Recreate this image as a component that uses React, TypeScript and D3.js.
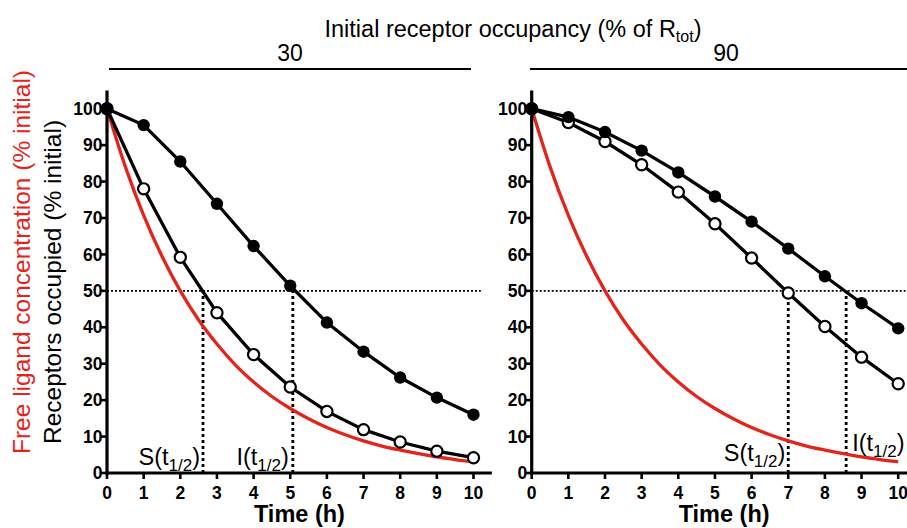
import React from "react";
import * as d3 from "d3";

const hours = [0, 1, 2, 3, 4, 5, 6, 7, 8, 9, 10];
const yTicks = [0, 10, 20, 30, 40, 50, 60, 70, 80, 90, 100];

// Initial occupancy 30 %
const occ30Filled = [100, 95.5, 85.5, 73.9, 62.3, 51.4, 41.3, 33.3, 26.2, 20.7, 16.0];
const occ30Open = [100, 78.0, 59.2, 44.0, 32.5, 23.6, 16.9, 11.9, 8.5, 6.0, 4.2];
// Initial occupancy 90 %
const occ90Filled = [100, 97.7, 93.6, 88.5, 82.5, 75.9, 69.0, 61.6, 54.0, 46.6, 39.7];
const occ90Open = [100, 96.2, 91.0, 84.6, 77.1, 68.4, 59.0, 49.4, 40.2, 31.8, 24.5];

// Free ligand concentration (red)
const ligandTimes = [0, 0.5, 1, 1.5, 2, 2.5, 3, 3.5, 4, 4.5, 5, 5.5, 6, 6.5, 7, 7.5, 8, 8.5, 9, 9.5, 10];
const ligandValues = [100, 84.1, 70.7, 59.5, 50, 42, 35.4, 29.7, 25, 21, 17.7, 14.9, 12.5, 10.5, 8.8, 7.4, 6.3, 5.3, 4.4, 3.7, 3.1];

const panelLabels = ["30", "90"];
const sHalf = [2.62, 7.0];
const iHalf = [5.07, 8.58];

const FONT = "'Liberation Sans', Arial, Helvetica, sans-serif";

type PanelProps = {
  x0: number;
  filled: number[];
  open: number[];
  s: number;
  i: number;
  right: boolean;
};

function Panel({ x0, filled, open, s, i, right }: PanelProps) {
  const x = d3.scaleLinear().domain([0, 10.5]).range([x0, x0 + 10.5 * 36.65]);
  const y = d3.scaleLinear().domain([0, 105]).range([473, 473 - 105 * 3.643]);
  const line = d3
    .line<number>()
    .x((_, k) => x(hours[k]))
    .y((v) => y(v));
  const redLine = d3
    .line<number>()
    .x((_, k) => x(ligandTimes[k]))
    .y((v) => y(v))
    .curve(d3.curveMonotoneX);

  const subLabel = (name: string, px: number, py: number, anchor: string) => (
    <text x={px} y={py} fontSize={23.5} fontFamily={FONT} textAnchor={anchor} fill="#000">
      {name}(t
      <tspan fontSize={17} dy={6}>
        1/2
      </tspan>
      <tspan dy={-6}>)</tspan>
    </text>
  );

  return (
    <g>
      {/* dotted reference lines */}
      <line x1={x(0)} x2={x(10.2)} y1={y(50)} y2={y(50)} stroke="#000" strokeWidth={1.6} strokeDasharray="2,2" />
      <line x1={x(s)} x2={x(s)} y1={y(0)} y2={y(50)} stroke="#000" strokeWidth={2.8} strokeDasharray="3,3" />
      <line x1={x(i)} x2={x(i)} y1={y(0)} y2={y(50)} stroke="#000" strokeWidth={2.8} strokeDasharray="3,3" />

      {/* ligand */}
      <path d={redLine(ligandValues) || ""} fill="none" stroke="#e3241b" strokeWidth={3.3} />

      {/* receptor curves */}
      <path d={line(open) || ""} fill="none" stroke="#000" strokeWidth={3.3} />
      <path d={line(filled) || ""} fill="none" stroke="#000" strokeWidth={3.3} />
      {open.map((v, k) => (
        <circle key={"o" + k} cx={x(hours[k])} cy={y(v)} r={5.6} fill="#fff" stroke="#000" strokeWidth={2.2} />
      ))}
      {filled.map((v, k) => (
        <circle key={"f" + k} cx={x(hours[k])} cy={y(v)} r={6.2} fill="#000" />
      ))}

      {/* axes */}
      <line x1={x(0)} x2={x(0)} y1={y(0) + 1.6} y2={y(105)} stroke="#000" strokeWidth={3.2} />
      <line x1={x(0) - 1.6} x2={x(10.5)} y1={y(0)} y2={y(0)} stroke="#000" strokeWidth={3.2} />
      {yTicks.map((t) => (
        <g key={"y" + t}>
          <line x1={x(0) - 6} x2={x(0)} y1={y(t)} y2={y(t)} stroke="#000" strokeWidth={2.6} />
          <text x={x(0) - 4.5} y={y(t) + 6.2} fontSize={17.5} fontWeight="bold" fontFamily={FONT} textAnchor="end">
            {t}
          </text>
        </g>
      ))}
      {hours.map((t) => (
        <g key={"x" + t}>
          <line x1={x(t)} x2={x(t)} y1={y(0)} y2={y(0) + 6} stroke="#000" strokeWidth={2.6} />
          <text x={x(t)} y={498.5} fontSize={17.5} fontWeight="bold" fontFamily={FONT} textAnchor="middle">
            {t}
          </text>
        </g>
      ))}
      <text x={(x(0) + x(10.5)) / 2} y={522} fontSize={23.5} fontWeight="bold" fontFamily={FONT} textAnchor="middle">
        Time (h)
      </text>

      {right ? (
        <>
          {subLabel("S", x(s) - 3, 461, "end")}
          {subLabel("I", x(i) + 6, 451, "start")}
        </>
      ) : (
        <>
          {subLabel("S", x(s) - 3, 465, "end")}
          {subLabel("I", x(i) - 4, 465, "end")}
        </>
      )}
    </g>
  );
}

export default function App() {
  return (
    <svg
      width={907}
      height={528}
      style={{ position: "absolute", left: 0, top: 0, background: "#fff" }}
      fontFamily={FONT}
    >
      <rect width={907} height={528} fill="#fff" />
      {/* title */}
      <text x={513} y={37} fontSize={23.5} textAnchor="middle" fontFamily={FONT}>
        Initial receptor occupancy (% of R
        <tspan fontSize={16} dy={5}>
          tot
        </tspan>
        <tspan dy={-5}>)</tspan>
      </text>
      <text x={290} y={61} fontSize={23} textAnchor="middle" fontFamily={FONT}>
        {panelLabels[0]}
      </text>
      <text x={726} y={61} fontSize={23} textAnchor="middle" fontFamily={FONT}>
        {panelLabels[1]}
      </text>
      <line x1={109} x2={471} y1={69} y2={69} stroke="#000" strokeWidth={2.2} />
      <line x1={530} x2={907} y1={69} y2={69} stroke="#000" strokeWidth={2.2} />

      {/* y axis titles */}
      <text
        transform="translate(30,262) rotate(-90)"
        fontSize={24.5}
        textAnchor="middle"
        fill="#e3241b"
        fontFamily={FONT}
      >
        Free ligand concentration (% initial)
      </text>
      <text transform="translate(61,282) rotate(-90)" fontSize={24.5} textAnchor="middle" fill="#000" fontFamily={FONT}>
        Receptors occupied (% initial)
      </text>

      <Panel x0={107} filled={occ30Filled} open={occ30Open} s={sHalf[0]} i={iHalf[0]} right={false} />
      <Panel x0={531.7} filled={occ90Filled} open={occ90Open} s={sHalf[1]} i={iHalf[1]} right={true} />
    </svg>
  );
}
